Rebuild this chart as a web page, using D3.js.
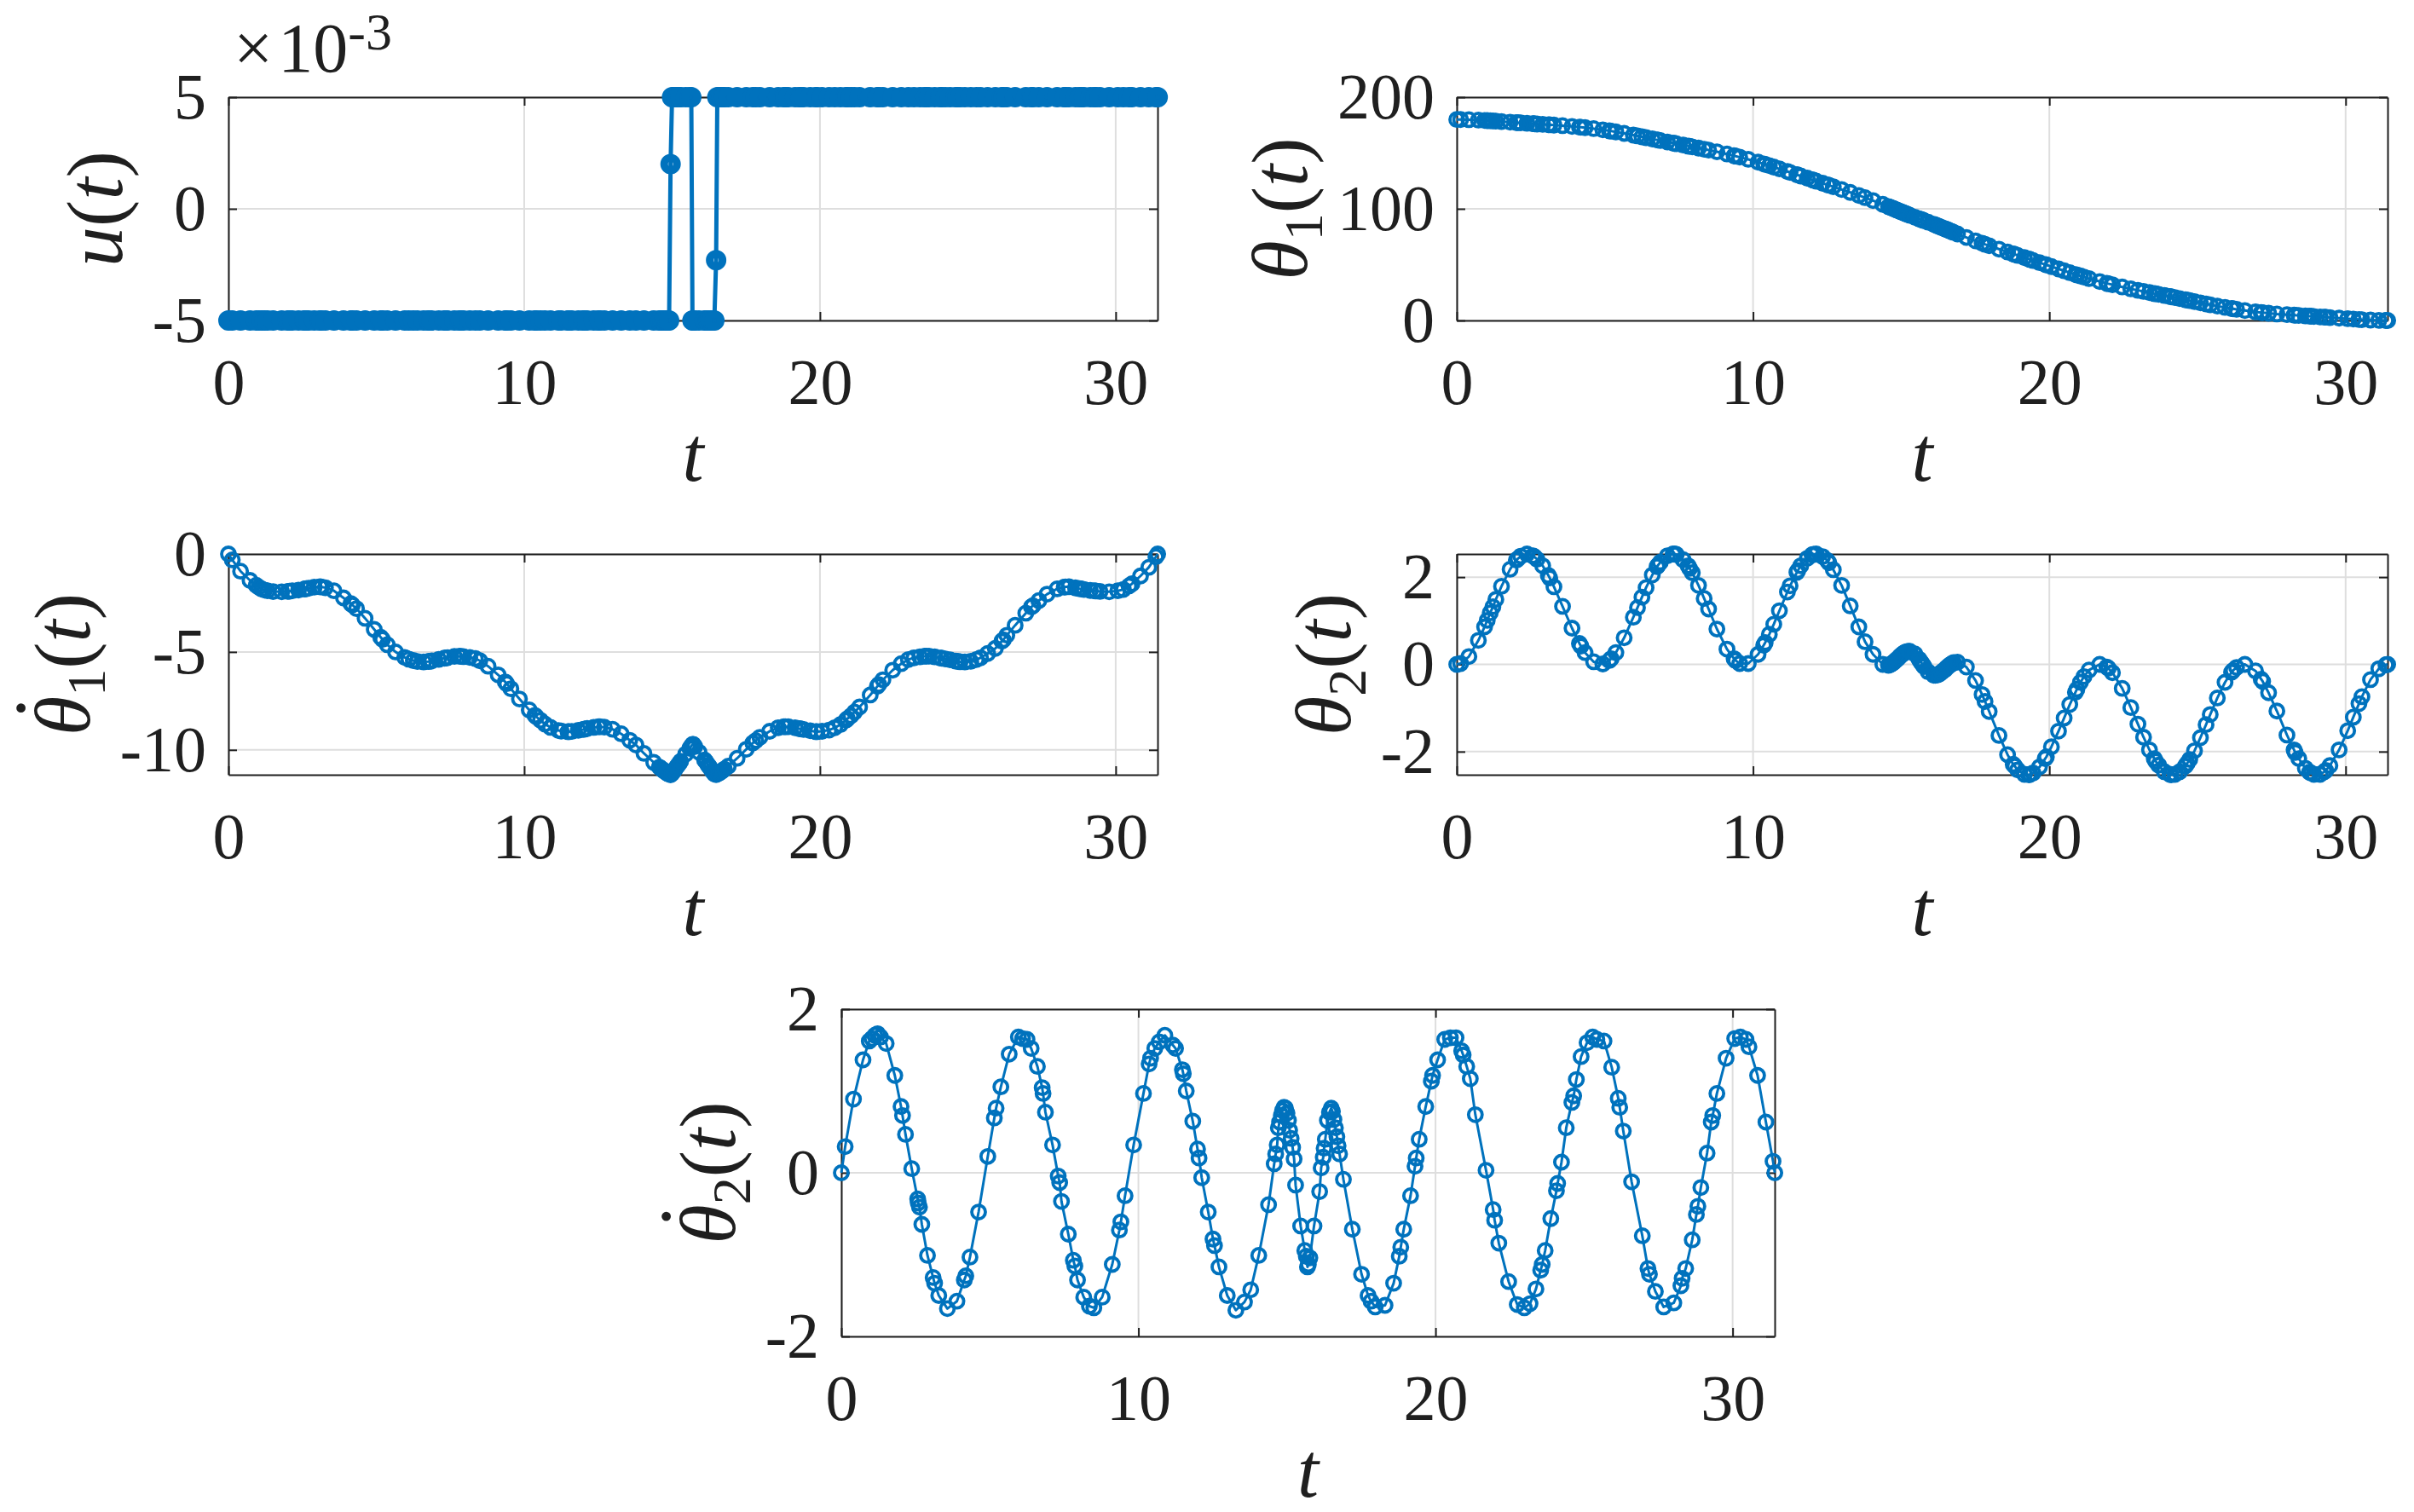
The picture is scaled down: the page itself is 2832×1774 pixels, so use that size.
<!DOCTYPE html>
<html lang="en">

<head>
    <meta charset="UTF-8">
    <title>Cart-pendulum states</title>
    <script src="https://d3js.org/d3.v7.min.js"></script>
    <style>
        body {
            margin: 0;
            background: #fff;
        }

        svg {
            display: block;
            font-family: 'Liberation Serif', 'Times New Roman', serif;
        }
    </style>
</head>

<body>
    <svg width="2832" height="1774"></svg>

    <script>
        // sample times (solver output), shared by all five panels
        const t = [
            0, 0.13, 0.41, 0.73, 0.94, 1.03, 1.13, 1.22, 1.32, 1.51,
            1.80, 2.01, 2.06, 2.16, 2.37, 2.57, 2.59, 2.63, 2.71, 2.90,
            3.09, 3.14, 3.28, 3.57, 3.89, 4.14, 4.19, 4.33, 4.62, 4.93,
            5.15, 5.21, 5.37, 5.65, 5.96, 6.10, 6.25, 6.39, 6.60, 6.76,
            6.79, 6.87, 7.11, 7.30, 7.35, 7.41, 7.64, 7.81, 7.86, 7.95,
            8.16, 8.35, 8.50, 8.78, 9.12, 9.36, 9.41, 9.55, 9.84, 10.17,
            10.36, 10.41, 10.55, 10.70, 10.89, 11.16, 11.25, 11.48, 11.51, 11.61,
            11.83, 11.99, 12.04, 12.13, 12.35, 12.51, 12.56, 12.71, 12.99, 13.28,
            13.57, 13.78, 14.05, 14.38, 14.57, 14.62, 14.67, 14.71, 14.75, 14.81,
            14.85, 14.90, 14.95, 15.00, 15.05, 15.09, 15.14, 15.19, 15.24, 15.29,
            15.46, 15.60, 15.65, 15.69, 15.72, 15.77, 15.91, 16.10, 16.15, 16.22,
            16.25, 16.29, 16.36, 16.43, 16.49, 16.53, 16.58, 16.63, 16.68, 16.72,
            16.77, 16.90, 17.20, 17.51, 17.73, 17.83, 17.97, 18.30, 18.59, 18.78,
            18.83, 18.93, 19.16, 19.31, 19.35, 19.45, 19.67, 19.86, 19.90, 20.07,
            20.31, 20.50, 20.69, 20.88, 20.93, 21.05, 21.17, 21.34, 21.70, 21.94,
            21.99, 22.13, 22.46, 22.75, 22.99, 23.18, 23.38, 23.54, 23.59, 23.69,
            23.88, 24.07, 24.11, 24.24, 24.40, 24.59, 24.65, 24.74, 24.90, 25.10,
            25.29, 25.43, 25.67, 25.93, 26.15, 26.20, 26.32, 26.60, 26.96, 27.15,
            27.20, 27.40, 27.68, 28.02, 28.26, 28.30, 28.42, 28.64, 28.78, 28.83,
            28.93, 29.14, 29.28, 29.33, 29.47, 29.78, 30.07, 30.26, 30.45, 30.55,
            30.84, 31.12, 31.36, 31.42
        ];

        const u = [
            -0.005, -0.005, -0.005, -0.005, -0.005, -0.005, -0.005, -0.005, -0.005, -0.005,
            -0.005, -0.005, -0.005, -0.005, -0.005, -0.005, -0.005, -0.005, -0.005, -0.005,
            -0.005, -0.005, -0.005, -0.005, -0.005, -0.005, -0.005, -0.005, -0.005, -0.005,
            -0.005, -0.005, -0.005, -0.005, -0.005, -0.005, -0.005, -0.005, -0.005, -0.005,
            -0.005, -0.005, -0.005, -0.005, -0.005, -0.005, -0.005, -0.005, -0.005, -0.005,
            -0.005, -0.005, -0.005, -0.005, -0.005, -0.005, -0.005, -0.005, -0.005, -0.005,
            -0.005, -0.005, -0.005, -0.005, -0.005, -0.005, -0.005, -0.005, -0.005, -0.005,
            -0.005, -0.005, -0.005, -0.005, -0.005, -0.005, -0.005, -0.005, -0.005, -0.005,
            -0.005, -0.005, -0.005, -0.005, -0.005, -0.005, -0.005, -0.005, -0.005, -0.005,
            -0.005, -0.005, 0.002, 0.005, 0.005, 0.005, 0.005, 0.005, 0.005, 0.005,
            0.005, 0.005, 0.005, -0.005, -0.005, -0.005, -0.005, -0.005, -0.005, -0.005,
            -0.005, -0.005, -0.005, -0.005, -0.0023, 0.005, 0.005, 0.005, 0.005, 0.005,
            0.005, 0.005, 0.005, 0.005, 0.005, 0.005, 0.005, 0.005, 0.005, 0.005,
            0.005, 0.005, 0.005, 0.005, 0.005, 0.005, 0.005, 0.005, 0.005, 0.005,
            0.005, 0.005, 0.005, 0.005, 0.005, 0.005, 0.005, 0.005, 0.005, 0.005,
            0.005, 0.005, 0.005, 0.005, 0.005, 0.005, 0.005, 0.005, 0.005, 0.005,
            0.005, 0.005, 0.005, 0.005, 0.005, 0.005, 0.005, 0.005, 0.005, 0.005,
            0.005, 0.005, 0.005, 0.005, 0.005, 0.005, 0.005, 0.005, 0.005, 0.005,
            0.005, 0.005, 0.005, 0.005, 0.005, 0.005, 0.005, 0.005, 0.005, 0.005,
            0.005, 0.005, 0.005, 0.005, 0.005, 0.005, 0.005, 0.005, 0.005, 0.005,
            0.005, 0.005, 0.005, 0.005
        ];

        const theta1 = [
            180, 179.98, 179.82, 179.47, 179.16, 179.02, 178.84, 178.67, 178.50, 178.15,
            177.61, 177.22, 177.13, 176.96, 176.55, 176.20, 176.17, 176.10, 175.94, 175.63,
            175.31, 175.23, 174.99, 174.45, 173.80, 173.20, 173.06, 172.70, 171.80, 170.75,
            169.85, 169.60, 168.90, 167.55, 166.03, 165.30, 164.50, 163.74, 162.6, 161.75,
            161.6, 161.15, 159.9, 158.9, 158.6, 158.3, 157.1, 156.2, 156.0, 155.5,
            154.4, 153.4, 152.6, 151.1, 149.1, 147.6, 147.2, 146.3, 144.3, 141.8,
            140.2, 139.8, 138.7, 137.4, 135.8, 133.4, 132.6, 130.6, 130.3, 129.4,
            127.5, 126.1, 125.6, 124.8, 122.9, 121.5, 121.1, 119.8, 117.3, 114.7,
            112.0, 110.0, 107.4, 104.0, 102.0, 101.5, 100.9, 100.5, 100.0, 99.4,
            98.9, 98.4, 97.8, 97.3, 96.8, 96.3, 95.8, 95.3, 94.7, 94.2,
            92.5, 91.1, 90.6, 90.2, 89.9, 89.4, 88.0, 86.1, 85.6, 84.8,
            84.5, 84.1, 83.3, 82.6, 81.9, 81.5, 81.0, 80.4, 79.9, 79.4,
            78.9, 77.5, 74.4, 71.3, 69.2, 68.2, 66.9, 63.9, 61.3, 59.6,
            59.2, 58.3, 56.3, 55.0, 54.6, 53.7, 51.8, 50.1, 49.8, 48.3,
            46.2, 44.5, 42.8, 41.2, 40.8, 39.9, 38.9, 37.5, 34.9, 33.2,
            32.9, 32.0, 30.0, 28.3, 27.0, 26.0, 25.0, 24.1, 23.9, 23.4,
            22.4, 21.4, 21.2, 20.5, 19.6, 18.6, 18.2, 17.8, 16.9, 15.8,
            14.8, 14.1, 12.9, 11.7, 10.7, 10.5, 10.0, 8.9, 7.7, 7.1,
            7.0, 6.5, 5.8, 5.2, 4.8, 4.7, 4.5, 4.1, 3.9, 3.8,
            3.6, 3.2, 3.0, 2.9, 2.6, 2.1, 1.6, 1.3, 0.9, 0.7,
            0.4, 0.1, 0.0, 0
        ];

        const dtheta1 = [
            0, -0.30, -0.88, -1.35, -1.60, -1.70, -1.79, -1.84, -1.88, -1.92,
            -1.93, -1.91, -1.90, -1.88, -1.84, -1.79, -1.78, -1.77, -1.75, -1.69,
            -1.67, -1.68, -1.72, -1.88, -2.24, -2.53, -2.60, -2.79, -3.28, -3.85,
            -4.25, -4.36, -4.63, -5.00, -5.28, -5.37, -5.44, -5.49, -5.51, -5.49,
            -5.48, -5.46, -5.38, -5.32, -5.31, -5.29, -5.23, -5.22, -5.23, -5.24,
            -5.28, -5.34, -5.45, -5.73, -6.17, -6.53, -6.62, -6.88, -7.40, -7.96,
            -8.24, -8.31, -8.49, -8.68, -8.85, -9.01, -9.04, -9.07, -9.07, -9.06,
            -9.00, -8.96, -8.94, -8.91, -8.85, -8.82, -8.82, -8.84, -8.95, -9.18,
            -9.51, -9.75, -10.18, -10.64, -10.88, -10.94, -11.00, -11.05, -11.10, -11.16,
            -11.20, -11.24, -11.27, -11.21, -11.10, -11.01, -10.90, -10.80, -10.69, -10.58,
            -10.22, -9.92, -9.81, -9.72, -9.72, -9.83, -10.12, -10.52, -10.62, -10.78,
            -10.84, -10.93, -11.08, -11.23, -11.26, -11.23, -11.19, -11.14, -11.09, -11.04,
            -10.98, -10.83, -10.43, -9.97, -9.65, -9.53, -9.36, -9.05, -8.87, -8.82,
            -8.82, -8.82, -8.87, -8.92, -8.93, -8.96, -9.02, -9.07, -9.07, -9.05,
            -8.99, -8.87, -8.71, -8.48, -8.41, -8.26, -8.07, -7.81, -7.20, -6.76,
            -6.66, -6.42, -5.93, -5.60, -5.39, -5.30, -5.25, -5.22, -5.22, -5.22,
            -5.25, -5.31, -5.32, -5.36, -5.40, -5.47, -5.48, -5.50, -5.51, -5.48,
            -5.39, -5.30, -5.08, -4.82, -4.45, -4.38, -4.15, -3.64, -3.02, -2.70,
            -2.64, -2.38, -2.05, -1.78, -1.69, -1.68, -1.67, -1.73, -1.77, -1.78,
            -1.81, -1.86, -1.88, -1.89, -1.91, -1.93, -1.88, -1.81, -1.63, -1.52,
            -1.12, -0.68, -0.14, 0
        ];

        const theta2 = [
            0, 0.02, 0.18, 0.55, 0.86, 1.01, 1.18, 1.32, 1.49, 1.79,
            2.18, 2.39, 2.42, 2.48, 2.53, 2.49, 2.48, 2.46, 2.41, 2.26,
            2.04, 1.98, 1.78, 1.33, 0.83, 0.48, 0.42, 0.27, 0.06, 0.01,
            0.09, 0.13, 0.27, 0.61, 1.08, 1.30, 1.54, 1.76, 2.05, 2.24,
            2.27, 2.34, 2.49, 2.53, 2.53, 2.52, 2.40, 2.26, 2.20, 2.10,
            1.81, 1.51, 1.27, 0.81, 0.35, 0.13, 0.09, 0.02, 0.02, 0.23,
            0.44, 0.50, 0.69, 0.92, 1.23, 1.66, 1.80, 2.11, 2.15, 2.26,
            2.43, 2.51, 2.52, 2.53, 2.47, 2.38, 2.33, 2.17, 1.81, 1.34,
            0.86, 0.52, 0.23, 0.00, -0.02, -0.01, 0.01, 0.03, 0.05, 0.09,
            0.11, 0.14, 0.18, 0.21, 0.24, 0.26, 0.28, 0.29, 0.30, 0.30,
            0.24, 0.12, 0.07, 0.03, 0.00, -0.05, -0.17, -0.25, -0.25, -0.24,
            -0.23, -0.22, -0.18, -0.14, -0.11, -0.08, -0.05, -0.02, 0.00, 0.02,
            0.04, 0.05, -0.06, -0.37, -0.69, -0.85, -1.08, -1.63, -2.07, -2.29,
            -2.33, -2.42, -2.52, -2.53, -2.52, -2.49, -2.35, -2.16, -2.12, -1.89,
            -1.53, -1.23, -0.92, -0.64, -0.57, -0.41, -0.28, -0.13, 0.00, -0.06,
            -0.09, -0.19, -0.55, -0.99, -1.37, -1.67, -1.96, -2.16, -2.22, -2.31,
            -2.46, -2.52, -2.53, -2.52, -2.46, -2.33, -2.27, -2.18, -1.98, -1.68,
            -1.38, -1.15, -0.77, -0.41, -0.18, -0.14, -0.07, 0.00, -0.15, -0.34,
            -0.39, -0.65, -1.07, -1.62, -1.96, -2.02, -2.16, -2.38, -2.47, -2.49,
            -2.52, -2.52, -2.46, -2.43, -2.32, -1.96, -1.52, -1.21, -0.90, -0.74,
            -0.35, -0.10, -0.01, 0.00
        ];

        const dtheta2 = [
            0, 0.32, 0.90, 1.38, 1.61, 1.64, 1.68, 1.70, 1.66, 1.58,
            1.19, 0.81, 0.70, 0.47, 0.05, -0.32, -0.37, -0.42, -0.63, -1.01,
            -1.28, -1.35, -1.50, -1.66, -1.57, -1.31, -1.26, -1.03, -0.48, 0.20,
            0.67, 0.79, 1.05, 1.45, 1.66, 1.64, 1.63, 1.52, 1.30, 1.04,
            0.97, 0.74, 0.34, -0.04, -0.12, -0.35, -0.75, -1.07, -1.14, -1.31,
            -1.52, -1.63, -1.65, -1.52, -1.12, -0.70, -0.60, -0.28, 0.34, 0.97,
            1.33, 1.40, 1.52, 1.60, 1.68, 1.56, 1.52, 1.26, 1.21, 1.00,
            0.63, 0.29, 0.18, -0.06, -0.48, -0.81, -0.89, -1.15, -1.50, -1.68,
            -1.58, -1.43, -1.01, -0.39, 0.11, 0.23, 0.34, 0.55, 0.62, 0.70,
            0.76, 0.80, 0.79, 0.73, 0.64, 0.52, 0.42, 0.31, 0.17, -0.15,
            -0.65, -0.95, -1.02, -1.15, -1.12, -1.04, -0.65, -0.23, 0.06, 0.19,
            0.30, 0.41, 0.64, 0.74, 0.79, 0.75, 0.65, 0.55, 0.44, 0.33,
            0.23, -0.08, -0.69, -1.24, -1.50, -1.57, -1.64, -1.62, -1.35, -1.02,
            -0.91, -0.69, -0.28, 0.08, 0.18, 0.41, 0.81, 1.12, 1.19, 1.38,
            1.63, 1.65, 1.65, 1.49, 1.44, 1.30, 1.15, 0.71, 0.03, -0.45,
            -0.58, -0.86, -1.33, -1.61, -1.65, -1.60, -1.42, -1.19, -1.12, -0.95,
            -0.56, -0.22, -0.13, 0.13, 0.55, 0.86, 0.94, 1.14, 1.42, 1.59,
            1.66, 1.63, 1.61, 1.29, 0.91, 0.80, 0.51, -0.11, -0.77, -1.17,
            -1.24, -1.45, -1.64, -1.59, -1.38, -1.29, -1.17, -0.82, -0.51, -0.41,
            -0.18, 0.24, 0.62, 0.70, 0.97, 1.40, 1.64, 1.66, 1.63, 1.54,
            1.19, 0.62, 0.14, 0
        ];

        const tTicks = [0, 10, 20, 30];
        const tLabels = ["0", "10", "20", "30"];
        const tMax = 31.4159;

        const panels = [
            {
                vals: u, box: [268, 114, 1358, 376], dom: [-0.005, 0.005],
                yTicks: [-0.005, 0, 0.005], yLabels: ["-5", "0", "5"], heavy: true, exponent: true,
                label: [{ s: "u", it: 1 }, { s: "(" }, { s: "t", it: 1 }, { s: ")" }]
            },
            {
                vals: theta1, box: [1709, 114, 2801, 376], dom: [0, 200],
                yTicks: [0, 100, 200], yLabels: ["0", "100", "200"],
                label: [{ s: "θ", it: 1 }, { s: "1", sub: 1 }, { s: "(", up: 1 }, { s: "t", it: 1 }, { s: ")" }]
            },
            {
                vals: dtheta1, box: [268, 650, 1358, 909], dom: [-11.27, 0],
                yTicks: [-10, -5, 0], yLabels: ["-10", "-5", "0"], dot: true,
                label: [{ s: "θ", it: 1 }, { s: "1", sub: 1 }, { s: "(", up: 1 }, { s: "t", it: 1 }, { s: ")" }]
            },
            {
                vals: theta2, box: [1709, 650, 2801, 909], dom: [-2.53, 2.53],
                yTicks: [-2, 0, 2], yLabels: ["-2", "0", "2"],
                label: [{ s: "θ", it: 1 }, { s: "2", sub: 1 }, { s: "(", up: 1 }, { s: "t", it: 1 }, { s: ")" }]
            },
            {
                vals: dtheta2, box: [987, 1184, 2082, 1568], dom: [-2, 2],
                yTicks: [-2, 0, 2], yLabels: ["-2", "0", "2"], dot: true,
                label: [{ s: "θ", it: 1 }, { s: "2", sub: 1 }, { s: "(", up: 1 }, { s: "t", it: 1 }, { s: ")" }]
            }
        ];

        const svg = d3.select("svg");
        const blue = "#0072BD";
        const ink = "#1f1f1f";
        const tickFont = 76, labelFont = 94;

        panels.forEach(p => {
            const [x0, y0, x1, y1] = p.box;
            const x = d3.scaleLinear().domain([0, tMax]).range([x0, x1]);
            const y = d3.scaleLinear().domain(p.dom).range([y1, y0]);
            const g = svg.append("g");

            // grid
            g.append("g").selectAll("line").data(tTicks).join("line")
                .attr("x1", d => x(d)).attr("x2", d => x(d))
                .attr("y1", y0).attr("y2", y1)
                .attr("stroke", "#dedede").attr("stroke-width", 2);
            g.append("g").selectAll("line").data(p.yTicks).join("line")
                .attr("x1", x0).attr("x2", x1)
                .attr("y1", d => y(d)).attr("y2", d => y(d))
                .attr("stroke", "#dedede").attr("stroke-width", 2);

            // axes, ticks pointing inward on all four sides
            const styleAxis = a => {
                a.attr("color", ink).attr("font-size", tickFont)
                    .attr("font-family", "'Liberation Serif', 'Times New Roman', serif");
                a.select(".domain").attr("stroke-width", 2);
                a.selectAll(".tick line").attr("stroke-width", 2);
            };
            g.append("g").attr("transform", `translate(0,${y1})`)
                .call(d3.axisBottom(x).tickValues(tTicks).tickFormat((d, i) => tLabels[i])
                    .tickSize(-10).tickSizeOuter(0).tickPadding(44))
                .call(styleAxis);
            g.append("g").attr("transform", `translate(0,${y0})`)
                .call(d3.axisTop(x).tickValues(tTicks).tickFormat("").tickSize(-10).tickSizeOuter(0))
                .call(styleAxis);
            const left = g.append("g").attr("transform", `translate(${x0},0)`)
                .call(d3.axisLeft(y).tickValues(p.yTicks).tickFormat((d, i) => p.yLabels[i])
                    .tickSize(-10).tickSizeOuter(0).tickPadding(26))
                .call(styleAxis);
            g.append("g").attr("transform", `translate(${x1},0)`)
                .call(d3.axisRight(y).tickValues(p.yTicks).tickFormat("").tickSize(-10).tickSizeOuter(0))
                .call(styleAxis);

            // data: line + open circle markers
            const pts = t.map((tt, i) => [tt, p.vals[i]]);
            g.append("path").datum(pts)
                .attr("fill", "none").attr("stroke", blue)
                .attr("stroke-width", p.heavy ? 5 : 3)
                .attr("stroke-linejoin", "round")
                .attr("d", d3.line().x(d => x(d[0])).y(d => y(d[1])));
            g.append("g").selectAll("circle").data(pts).join("circle")
                .attr("cx", d => x(d[0])).attr("cy", d => y(d[1]))
                .attr("r", p.heavy ? 7.5 : 8)
                .attr("fill", "none").attr("stroke", blue)
                .attr("stroke-width", p.heavy ? 9 : 3.8);

            // x label
            g.append("text")
                .attr("x", (x0 + x1) / 2).attr("y", y1 + 188)
                .attr("text-anchor", "middle").attr("font-size", 90)
                .attr("font-style", "italic").attr("fill", ink)
                .text("t");

            // y label, rotated, just left of the tick labels
            const tickLeft = x0 + left.node().getBBox().x;
            const lx = tickLeft - 36;
            const cy = (y0 + y1) / 2;
            const lg = svg.append("g").attr("transform", `translate(${lx},${cy}) rotate(-90)`);
            const txt = lg.append("text").attr("text-anchor", "middle")
                .attr("font-size", labelFont).attr("fill", ink);
            p.label.forEach(part => {
                const ts = txt.append("tspan").text(part.s);
                if (part.it) ts.attr("font-style", "italic");
                if (part.sub) ts.attr("font-size", 64).attr("dy", 18);
                if (part.up) ts.attr("dy", -18);
            });
            if (p.dot) {
                // dot accent over theta
                const e = txt.node().getExtentOfChar(0);
                lg.append("text")
                    .attr("x", e.x + e.width / 2 + 9).attr("y", -36)
                    .attr("text-anchor", "middle").attr("font-size", 72)
                    .attr("font-weight", "bold").attr("fill", ink)
                    .text("\u02D9");
            }

            // scale factor for u(t)
            if (p.exponent) {
                const ex = g.append("text")
                    .attr("x", x0 + 6).attr("y", y0 - 30)
                    .attr("font-size", 82).attr("fill", ink);
                ex.append("tspan").text("×");
                ex.append("tspan").attr("dx", 6).text("10");
                ex.append("tspan").attr("font-size", 62).attr("dy", -26).text("-3");
            }
        });
    </script>
</body>

</html>
